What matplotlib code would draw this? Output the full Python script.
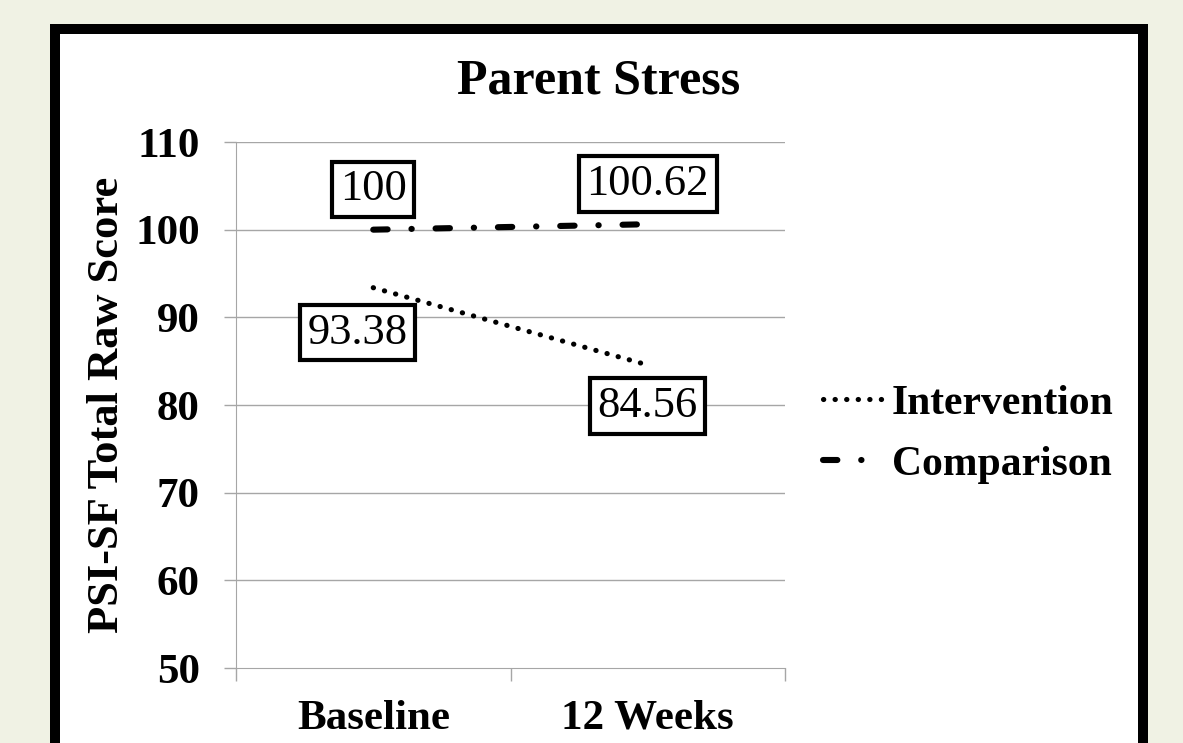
import matplotlib
matplotlib.use("Agg")
from matplotlib import pyplot as plt
from matplotlib.patches import Rectangle
from matplotlib.lines import Line2D

# data
categories = ["Baseline", "12 Weeks"]
intervention = [93.38, 84.56]
comparison = [100, 100.62]
series_names = ["Intervention", "Comparison"]
y_ticks = [50, 60, 70, 80, 90, 100, 110]

bg = "#f0f2e4"
grid_c = "#a6a6a6"


def main():
  plt.rcParams['font.family'] = ['Liberation Serif', 'DejaVu Serif']

  fig = plt.figure(figsize=(11.83, 7.43), dpi=100, facecolor=bg)

  # white panel with thick black frame (runs off the bottom)
  frame = Rectangle((55 / 1183, -0.05), (1143 - 55) / 1183, 1 - 29 / 743 + 0.05,
                    transform=fig.transFigure, facecolor="white", edgecolor="black",
                    linewidth=7.2, zorder=-5)
  fig.patches.append(frame)

  ax = fig.add_axes([236 / 1183, 1 - 668 / 743, (785 - 236) / 1183, (668 - 142) / 743])
  ax.set_zorder(2)
  ax.set_facecolor("none")

  x = list(range(len(categories)))
  dot_style = dict(color="black", lw=3.7, dashes=(0.05, 2.2), dash_capstyle="round")
  dash_style = dict(color="black", lw=4.4, dashes=(2.35, 3.9, 0.05, 3.9),
                    dash_capstyle="round")
  ax.plot(x, intervention, zorder=3, **dot_style)
  ax.plot(x, comparison, zorder=3, **dash_style)

  box = dict(boxstyle="square,pad=0.17", fc="white", ec="black", lw=3)
  offsets = {0: [(0, 29), (0, 29)], 1: [(-11.5, -32.5), (0, -29.5)]}
  for i in x:
    ax.annotate(f"{comparison[i]:g}", (i, comparison[i]), xytext=offsets[0][i],
                textcoords="offset points", ha="center", va="center",
                fontsize=32, bbox=box, zorder=4)
    ax.annotate(f"{intervention[i]:.2f}", (i, intervention[i]), xytext=offsets[1][i],
                textcoords="offset points", ha="center", va="center",
                fontsize=32, bbox=box, zorder=4)

  ax.set_xlim(-0.5, 1.5)
  ax.set_ylim(50, 110)
  ax.set_yticks(y_ticks)
  ax.set_yticklabels([str(t) for t in y_ticks], fontsize=31, fontweight="bold")
  ax.set_xticks(x)
  ax.set_xticklabels(categories, fontsize=31, fontweight="bold")
  ax.set_xticks([-0.5, 0.5, 1.5], minor=True)

  ax.tick_params(axis="y", length=9, width=1, color=grid_c, pad=17)
  ax.tick_params(axis="x", which="major", length=0, pad=23)
  ax.tick_params(axis="x", which="minor", length=9, width=1, color=grid_c)

  for t in y_ticks[1:]:
    ax.axhline(t, color=grid_c, lw=1, zorder=1)
  for side in ["top", "right"]:
    ax.spines[side].set_visible(False)
  ax.spines["left"].set_color(grid_c)
  ax.spines["bottom"].set_color(grid_c)

  fig.text(599 / 1183, 1 - 93 / 743, "Parent Stress", fontsize=36,
           fontweight="bold", ha="center", va="baseline")
  ax.set_ylabel("PSI-SF Total Raw Score", fontsize=32, fontweight="bold")
  ax.yaxis.set_label_coords(-0.199, 0.5)

  # legend handles: same styles, comparison pattern shown once ("- .")
  handles = [Line2D([], [], **dot_style),
             Line2D([], [], **dict(dash_style, dashes=(2.35, 3.9, 0.05, 20)))]
  fig.legend(handles, series_names, loc="center left",
             bbox_to_anchor=(802 / 1183, 1 - 434 / 743),
             frameon=False, prop=dict(size=30, weight="bold"), handlelength=1.6,
             handletextpad=0.05, labelspacing=0.55, borderpad=0)

  fig.savefig("out.png", dpi=100, facecolor=bg)


if __name__ == '__main__':
  main()
